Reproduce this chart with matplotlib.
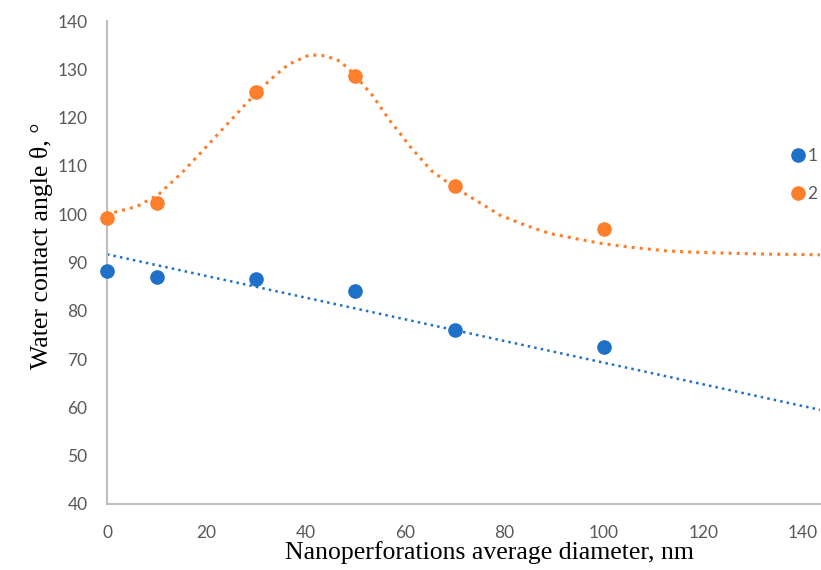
import matplotlib
matplotlib.use("Agg")
import matplotlib.pyplot as plt

# measured points
diam = [0, 10, 30, 50, 70, 100]
angle_1 = [88.2, 87.1, 86.6, 84.2, 76.1, 72.5]
angle_2 = [99.2, 102.4, 125.3, 128.6, 105.8, 96.9]

# trend lines
trend1_x = [0, 143.5]
trend1_y = [91.7, 59.5]

trend2_x = [0, 1.6, 6, 10.3, 15, 19.4, 23.7, 28.1, 32.8, 36.5, 40.8, 43.9, 46.9,
            49.5, 53.5, 56.9, 59, 61, 65.3, 69.7, 75, 79.1, 84, 89.1, 94, 99.2,
            105, 112.6, 119, 126, 135, 143.5]
trend2_y = [99.6, 100.4, 101.6, 104.0, 108.5, 113.3, 118.1, 123.0, 127.8, 131.0,
            133.0, 132.8, 131.7, 129.2, 124.5, 119.4, 116.7, 114.0, 109.0, 105.7,
            102.4, 99.8, 97.8, 96.0, 95.0, 94.0, 93.2, 92.4, 92.1, 91.9, 91.7, 91.6]

blue = "#1f70c8"
orange = "#fd7f2c"
grey = "#595959"

fig = plt.figure(figsize=(8.21, 5.70), dpi=100)
ax = fig.add_axes([107 / 821, 66 / 570, 713 / 821, 483 / 570])

ax.plot(trend1_x, trend1_y, color=blue, linestyle=":", linewidth=1.8)
ax.plot(trend2_x, trend2_y, color=orange, linestyle=":", linewidth=2.2)

ax.plot(diam, angle_1, "o", color=blue, markersize=9.5, label="1", clip_on=False, zorder=4)
ax.plot(diam, angle_2, "o", color=orange, markersize=9.5, label="2", clip_on=False, zorder=4)

ax.set_xlim(0, 143.5)
ax.set_ylim(40, 140)
ax.set_xticks(range(0, 141, 20))
ax.set_yticks(range(40, 141, 10))

for s in ["top", "right"]:
    ax.spines[s].set_visible(False)
for s in ["left", "bottom"]:
    ax.spines[s].set_color("#bfbfbf")
    ax.spines[s].set_linewidth(1.5)

ax.tick_params(axis="both", length=0, labelsize=12.5, labelcolor=grey)
ax.tick_params(axis="y", pad=14)
ax.tick_params(axis="x", pad=15)
for lab in ax.get_xticklabels() + ax.get_yticklabels():
    lab.set_family("Lato")

ax.set_xlabel("Nanoperforations average diameter, nm", family="Liberation Serif",
              fontsize=18.5, labelpad=0)
ax.set_ylabel("Water contact angle θ, °", family="Liberation Serif",
              fontsize=18.5, labelpad=3)
ax.xaxis.label.set_x(0.536)
ax.yaxis.label.set_y(0.534)

leg = ax.legend(loc="upper left", bbox_to_anchor=(0.9446, 0.755), frameon=False,
                borderpad=0, handletextpad=0.05, labelspacing=1.25, handlelength=1.0,
                prop={"family": "Lato", "size": 12.5})
for t in leg.get_texts():
    t.set_color(grey)

fig.savefig("out.png", dpi=100)
